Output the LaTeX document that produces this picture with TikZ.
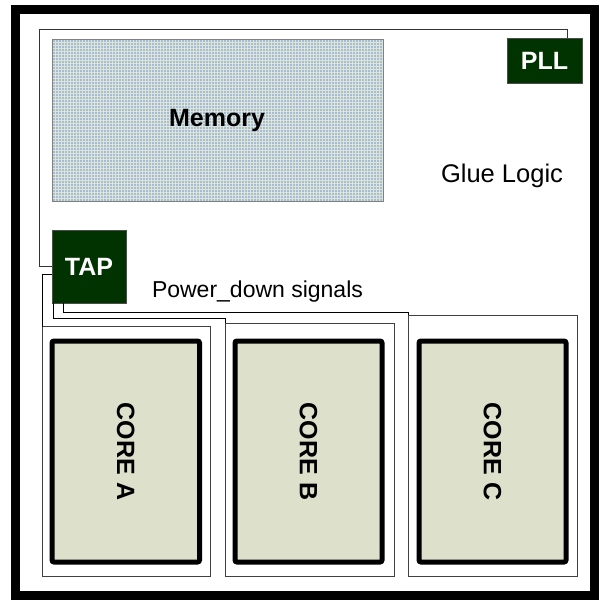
\documentclass[tikz,border=0pt]{standalone}
\usepackage{fontspec}
\setmainfont{Liberation Sans}
\begin{document}
\begin{tikzpicture}[x=1pt,y=-1pt,
  every node/.style={inner sep=0pt, outer sep=0pt},
  greenbox/.style={draw=gray!60!black, line width=0.8pt, fill={rgb,255:red,0;green,51;blue,0},
     text=white, font=\fontsize{25}{30}\selectfont\bfseries},
  outerbox/.style={draw=gray!50!black, line width=1pt, fill=white},
  corebox/.style={draw=black, line width=5pt, rounded corners=2pt,
     fill={rgb,255:red,221;green,224;blue,203}, font=\fontsize{25}{30}\selectfont\bfseries},
  wire/.style={draw=black, line width=0.9pt},
  gluewire/.style={draw=gray!40!black, line width=0.9pt},
  gridline/.style={draw={rgb,255:red,222;green,228;blue,216}, line width=0.3pt}
]
\useasboundingbox (0,0) rectangle (601,599);
\fill[white] (0,0) rectangle (601,599);
% outer chip border
\draw[line width=9pt] (15.5,10) rectangle (594,595);

% memory
\node[draw=gray, line width=0.8pt, fill={rgb,255:red,166;green,189;blue,214},
  minimum width=331, minimum height=162,
  path picture={\draw[gridline, step=3pt] (path picture bounding box.south west) grid (path picture bounding box.north east);}]
  (mem) at (217.5,120) {};
\node[font=\fontsize{25}{30}\selectfont\bfseries] (memlabel) at (217,120) {Memory};

% PLL and TAP
\node[greenbox, minimum width=75, minimum height=45] (PLL) at (544.5,60.5) {PLL};
\node[greenbox, minimum width=74, minimum height=73] (TAP) at (89,266.5) {TAP};

% glue logic outline
\coordinate (gtl) at (39,29);
\coordinate (gtr) at (567,29);
\draw[gluewire] (TAP.west) -| (gtl) -- (gtr) -- (gtr |- PLL.north);

\node[font=\fontsize{25.5}{30}\selectfont] (glue) at (502,176) {Glue Logic};
\node[font=\fontsize{23}{28}\selectfont, anchor=west] (pds) at (152,292) {Power\_down signals};

% core outer boxes
\node[outerbox, minimum width=168, minimum height=249.5] (boxA) at (126,451.25) {};
\node[outerbox, minimum width=169, minimum height=253] (boxB) at (309.5,449.5) {};
\node[outerbox, minimum width=169, minimum height=261] (boxC) at (492.5,445.5) {};

% cores
\node[corebox, minimum width=147.5, minimum height=221] (coreA) at (125.75,451.5) {\rotatebox{-90}{CORE A}};
\node[corebox, minimum width=147, minimum height=221] (coreB) at (308.5,451.5) {\rotatebox{-90}{CORE B}};
\node[corebox, minimum width=147, minimum height=221] (coreC) at (492.5,451.5) {\rotatebox{-90}{CORE C}};

% power down wires
\coordinate (aj) at (42,274);
\coordinate (bj) at (225,318.5);
\coordinate (cj) at (408,312);
\coordinate (bs) at (53,303);
\coordinate (cs) at (63,303);
\draw[wire] (TAP.west |- aj) -- (aj) -- (boxA.north west);
\draw[wire] (bs) |- (bj) -- (boxB.north west);
\draw[wire] (cs) |- (cj) -- (boxC.north west);
\end{tikzpicture}
\end{document}
